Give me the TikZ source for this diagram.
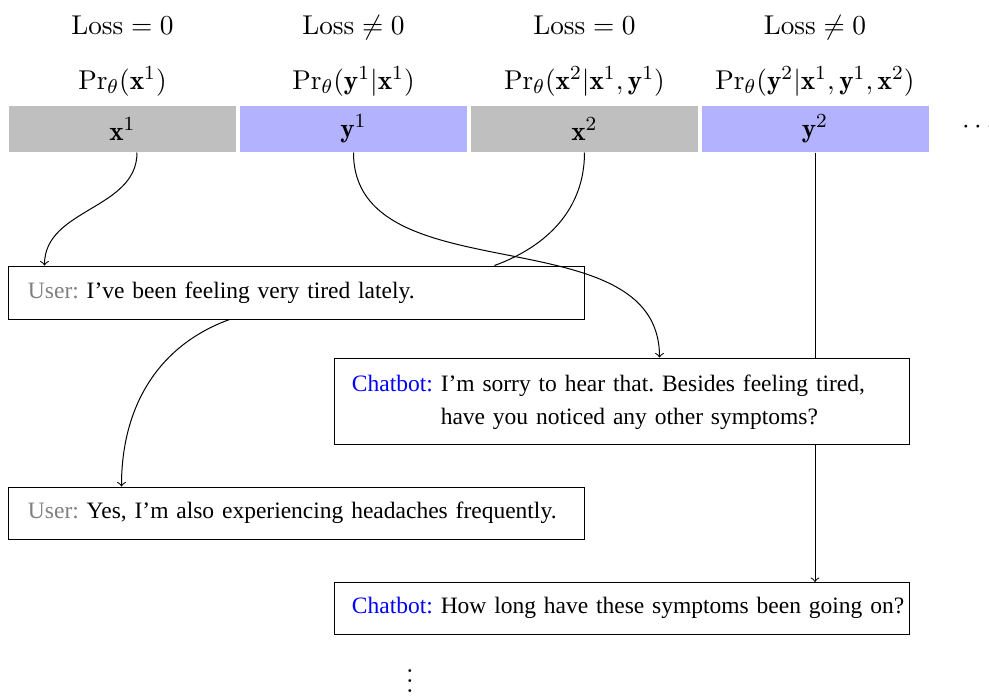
\documentclass[tikz,border=0pt]{standalone}
\usepackage{fontspec}
\newfontfamily\tnr{Liberation Serif}
\usetikzlibrary{calc}
\begin{document}
\begin{tikzpicture}[x=0.4pt,y=-0.4pt,
  mathfont/.style={font=\fontsize{10.88}{13}\selectfont},
  txtfont/.style={font=\tnr\fontsize{9.4}{11.5}\selectfont\frenchspacing},
  cell/.style={mathfont, minimum width=90.8pt, minimum height=18.4pt, inner sep=0pt},
  lbl/.style={mathfont, anchor=base, inner sep=0pt},
  ubox/.style={txtfont, draw, fill=white, minimum height=21.2pt, text width=214.8pt, inner xsep=7.6pt, inner ysep=0pt, align=left},
  cbox/.style={txtfont, draw, fill=white, text width=216pt, inner xsep=6.8pt, inner ysep=0pt, align=left},
  conn/.style={->},
  plain/.style={-}]
\clip (0,0) rectangle (989,695);
% top cells
\node[cell, fill=lightgray] (c1) at (122.5,129) {$\mathbf{x}^1$};
\node[cell, fill=blue!30]   (c2) at (353.5,129) {$\mathbf{y}^1$};
\node[cell, fill=lightgray] (c3) at (584.5,129) {$\mathbf{x}^2$};
\node[cell, fill=blue!30]   (c4) at (815,129)   {$\mathbf{y}^2$};
\node[mathfont] (cd) at (978,127) {$\cdots$};
% labels
\node[lbl] (l1) at (122.5,34) {$\mathrm{Loss}=0$};
\node[lbl] (l2) at (353.5,34) {$\mathrm{Loss}\neq0$};
\node[lbl] (l3) at (584.5,34) {$\mathrm{Loss}=0$};
\node[lbl] (l4) at (815,34)   {$\mathrm{Loss}\neq0$};
\node[lbl] (p1) at (122.5,89) {$\Pr_\theta(\mathbf{x}^1)$};
\node[lbl] (p2) at (353.5,89) {$\Pr_\theta(\mathbf{y}^1|\mathbf{x}^1)$};
\node[lbl] (p3) at (584.5,89) {$\Pr_\theta(\mathbf{x}^2|\mathbf{x}^1,\mathbf{y}^1)$};
\node[lbl] (p4) at (815,89)   {$\Pr_\theta(\mathbf{y}^2|\mathbf{x}^1,\mathbf{y}^1,\mathbf{x}^2)$};
% straight connector behind boxes
\draw[conn] (c4.south) -- (c4.south |- 0,582) coordinate (e4);
% boxes
\node[ubox] (u1) at (296.5,292.5) {\textcolor{gray}{User:} I’ve been feeling very tired lately.};
\node[cbox, minimum height=34.4pt] (b1) at (622,401) {\renewcommand{\arraystretch}{1.15}\begin{tabular}{@{}l@{ }l@{}}\textcolor{blue}{Chatbot:} & I’m sorry to hear that. Besides feeling tired,\\ & have you noticed any other symptoms?\end{tabular}};
\node[ubox, minimum height=20.8pt] (u2) at (296.5,513) {\textcolor{gray}{User:} Yes, I’m also experiencing headaches frequently.};
\node[cbox, minimum height=20.8pt] (b2) at (622,608) {\mbox{\textcolor{blue}{Chatbot:} How long have these symptoms been going on?}};
\node[mathfont] (vd) at (410,674) {$\vdots$};
% connectors
\draw[conn] ($(c1.south)+(14.5,0)$) to[out=-90,in=90] ($(u1.north west)+(36,0)$);
\draw[plain] (c3.south) to[out=-90,in=20] ($(u1.north west)+(486,0)$);
\draw[conn] (c2.south) to[out=-90,in=90] ($(b1.north west)+(325,0)$);
\draw[conn] ($(u1.south west)+(221,0)$) to[out=200,in=90] ($(u2.north west)+(113,0)$);
\end{tikzpicture}
\end{document}
